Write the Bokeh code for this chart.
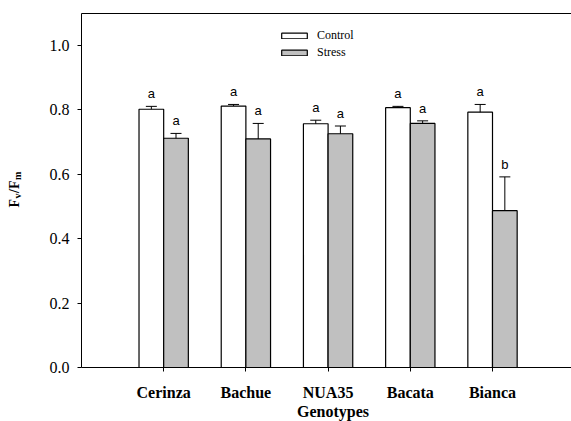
import math
from bokeh.plotting import figure
from bokeh.models import (ColumnDataSource, Whisker, TeeHead, FixedTicker, LinearAxis,
                          Legend, LegendItem, Label, CustomJSTickFormatter)
from bokeh.core.properties import value
from bokeh.embed import file_html
from bokeh.resources import INLINE

# ---- data ----
genotypes = ["Cerinza", "Bachue", "NUA35", "Bacata", "Bianca"]
control = [0.802, 0.812, 0.757, 0.807, 0.793]
control_err = [0.009, 0.005, 0.011, 0.004, 0.024]
control_letters = ["a", "a", "a", "a", "a"]
stress = [0.712, 0.710, 0.726, 0.758, 0.487]
stress_err = [0.015, 0.048, 0.024, 0.008, 0.105]
stress_letters = ["a", "a", "a", "a", "b"]
y_ticks = [0.0, 0.2, 0.4, 0.6, 0.8, 1.0]
x_title = "Genotypes"

bar_w = 0.3
pos = [i + 1 for i in range(len(genotypes))]
X_MAX = 5.961
Y_MAX = 1.1

def make_src(vals, errs, letters, shift):
    return ColumnDataSource(dict(
        x=[p + shift for p in pos],
        top=vals,
        upper=[v + e for v, e in zip(vals, errs)],
        lower=[v - e for v, e in zip(vals, errs)],
        letter=letters,
    ))

src_c = make_src(control, control_err, control_letters, -bar_w / 2)
src_s = make_src(stress, stress_err, stress_letters, bar_w / 2)

p = figure(width=571, height=421, output_backend="svg", toolbar_location=None,
           x_range=(-0.985, X_MAX), y_range=(-0.1677, 1.1398),
           min_border_left=0, min_border_top=0, min_border_bottom=0, min_border_right=0)
p.frame_width = 571
p.frame_height = 421
p.outline_line_color = None
p.xgrid.visible = False
p.ygrid.visible = False
p.background_fill_color = "white"
p.border_fill_color = "white"

serif_b = "Liberation Serif"
serif_r = "Times New Roman"

r_c = p.vbar(x="x", top="top", width=bar_w, bottom=0, source=src_c,
             fill_color="white", line_color="black", line_width=1.2)
r_s = p.vbar(x="x", top="top", width=bar_w, bottom=0, source=src_s,
             fill_color="#c0c0c0", line_color="black", line_width=1.2)

for src in (src_c, src_s):
    w = Whisker(base="x", upper="upper", lower="lower", source=src,
                line_color="black", line_width=1,
                upper_head=TeeHead(size=11, line_color="black", line_width=1),
                lower_head=TeeHead(size=11, line_color="black", line_width=1))
    p.add_layout(w)
    p.text(x="x", y="upper", text="letter", source=src, y_offset=-5,
           text_align="center", text_baseline="bottom",
           text_font=value("Liberation Sans"), text_font_size="13px",
           text_color="black")

xa = p.below[0]
ya = p.left[0]

# top frame line as a bare axis
top_axis = LinearAxis(ticker=FixedTicker(ticks=[]), fixed_location=Y_MAX,
                      bounds=(0, X_MAX), axis_line_color="black",
                      major_tick_line_color=None, minor_tick_line_color=None,
                      major_label_text_font_size="0px")
p.add_layout(top_axis, "above")

xa.fixed_location = 0
xa.ticker = FixedTicker(ticks=pos)
xa.bounds = (0, X_MAX)
xa.major_label_overrides = {p_: g for p_, g in zip(pos, genotypes)}
xa.minor_tick_line_color = None
xa.major_tick_in = 0
xa.major_tick_out = 4
xa.axis_line_color = "black"
xa.major_label_text_font = serif_b
xa.major_label_text_font_style = "bold"
xa.major_label_text_font_size = "16px"
xa.major_label_text_color = "black"
xa.major_label_standoff = 12

ya.fixed_location = 0
ya.bounds = (0, Y_MAX)
ya.ticker = FixedTicker(ticks=y_ticks)
ya.formatter = CustomJSTickFormatter(code="return tick.toFixed(1)")
ya.minor_tick_line_color = None
ya.major_tick_in = 0
ya.major_tick_out = 4
ya.axis_line_color = "black"
ya.major_label_text_font = serif_r
ya.major_label_text_font_size = "16px"
ya.major_label_text_color = "black"
ya.major_label_standoff = 8

yb = 54  # px from frame bottom to y=0

# x axis title
p.add_layout(Label(text=x_title, x=3.06, y=10, x_units="data", y_units="screen",
                   text_align="center", text_baseline="alphabetic",
                   text_font=serif_b, text_font_style="bold",
                   text_font_size="16px", text_color="black"))

# y axis label F_v/F_m, drawn as pieces (screen units relative to the frame)
def lab(text, x, y, size):
    p.add_layout(Label(text=text, x=x, y=y, x_units="screen", y_units="screen",
                       angle=math.pi / 2, text_align="left", text_baseline="alphabetic",
                       text_font=serif_b, text_font_style="bold",
                       text_font_size=size, text_color="black"))

lab("F", 13.5, yb + 160, "14px")
lab("v", 16.5, yb + 169, "10px")
lab("/F", 13.5, yb + 174.5, "14px")
lab("m", 16.5, yb + 187.5, "10px")

legend = Legend(items=[LegendItem(label="Control", renderers=[r_c]),
                       LegendItem(label="Stress", renderers=[r_s])],
                location=(278, yb + 307), glyph_width=32, glyph_height=7,
                label_height=10, label_standoff=7, spacing=2, padding=0, margin=0,
                border_line_color=None, background_fill_alpha=0,
                label_text_font="serif", label_text_font_size="12px",
                label_text_color="black")
p.add_layout(legend)

open("out.html", "w").write(file_html(p, INLINE))
